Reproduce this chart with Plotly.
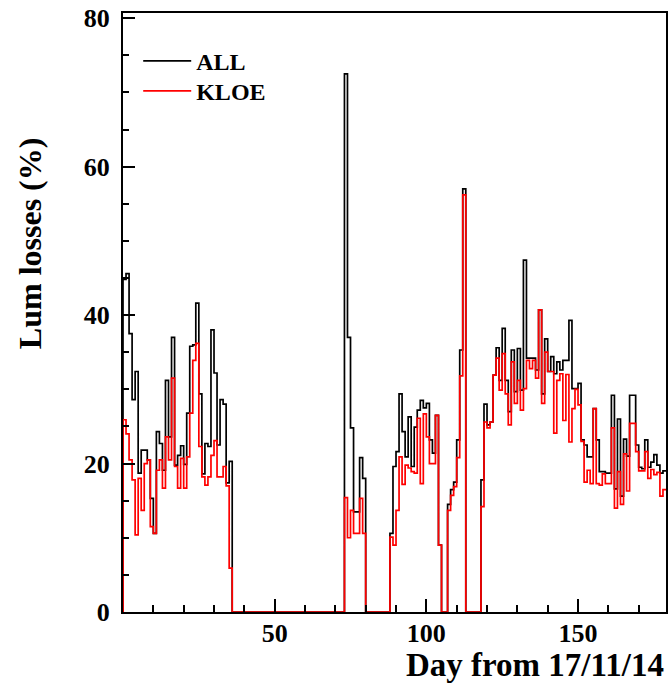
import plotly.graph_objects as go

# Daily luminosity losses (%), one bin per day starting at day 0
all_losses = [
    44.8, 45.6, 37.5, 28.6, 32.4, 18.7, 21.8, 21.8, 20.5, 15.3,
    10.6, 24.3, 22.7, 19.1, 31.2, 23.6, 37.0, 19.8, 21.1, 22.4,
    19.9, 26.8, 35.8, 36.0, 41.6, 29.4, 18.6, 22.7, 22.3, 38.0,
    32.2, 22.5, 28.6, 28.0, 17.4, 20.3, 0, 0, 0, 0,
    0, 0, 0, 0, 0, 0, 0, 0, 0, 0,
    0, 0, 0, 0, 0, 0, 0, 0, 0, 0,
    0, 0, 0, 0, 0, 0, 0, 0, 0, 0,
    0, 0, 0, 72.5, 37.0, 24.8, 13.5, 13.5, 20.8, 18.0,
    0, 0, 0, 0, 0, 0, 0, 0, 10.6, 19.6,
    21.6, 29.4, 24.3, 20.9, 26.3, 19.6, 24.9, 27.2, 28.5, 27.5,
    28.1, 23.2, 21.4, 26.5, 9.0, 0, 0, 14.5, 16.5, 17.5,
    23.2, 35.3, 57.0, 0, 0, 0, 0, 0, 17.8, 28.0,
    25.2, 25.6, 31.9, 35.6, 31.2, 38.2, 31.2, 27.0, 35.3, 29.7,
    35.5, 29.9, 47.4, 34.2, 34.2, 34.2, 32.6, 40.7, 29.4, 36.8,
    32.4, 34.4, 32.1, 33.7, 32.6, 33.9, 33.9, 39.3, 30.1, 30.1,
    30.8, 23.2, 22.5, 20.9, 20.9, 27.4, 23.2, 18.9, 18.9, 18.7,
    18.7, 29.2, 16.6, 26.0, 15.6, 23.3, 21.0, 29.2, 29.2, 22.5,
    19.5, 19.3, 23.2, 19.5, 20.2, 21.2, 19.8, 18.7, 19.0,
]

kloe_losses = [
    25.9, 24.0, 20.5, 17.8, 10.4, 18.0, 13.7, 20.0, 20.5, 11.5,
    10.6, 19.1, 20.5, 16.7, 23.6, 20.5, 31.5, 19.6, 16.7, 20.7,
    16.7, 20.9, 26.8, 33.9, 36.2, 22.3, 18.2, 17.1, 18.2, 21.1,
    23.1, 18.2, 18.2, 19.6, 17.0, 5.9, 0, 0, 0, 0,
    0, 0, 0, 0, 0, 0, 0, 0, 0, 0,
    0, 0, 0, 0, 0, 0, 0, 0, 0, 0,
    0, 0, 0, 0, 0, 0, 0, 0, 0, 0,
    0, 0, 0, 15.4, 10.0, 13.7, 10.6, 10.6, 15.3, 10.6,
    0, 0, 0, 0, 0, 0, 0, 0, 10.1, 9.0,
    13.7, 20.9, 17.2, 19.8, 19.4, 18.9, 18.7, 26.1, 17.3, 26.7,
    23.6, 20.0, 20.0, 26.5, 9.0, 0, 0, 13.7, 15.7, 16.9,
    20.8, 31.8, 56.2, 0, 0, 0, 0, 0, 14.2, 25.6,
    24.8, 25.6, 31.9, 34.2, 29.9, 34.8, 29.4, 25.2, 33.7, 28.1,
    31.2, 27.2, 30.1, 33.9, 32.8, 33.9, 31.5, 40.7, 28.1, 35.0,
    32.4, 32.4, 24.1, 31.2, 32.1, 25.8, 32.0, 22.9, 27.4, 30.0,
    27.9, 23.0, 17.5, 19.1, 17.3, 27.4, 17.3, 17.1, 18.6, 17.3,
    17.3, 24.8, 14.0, 18.9, 14.5, 21.3, 16.3, 25.4, 25.4, 21.6,
    19.0, 19.0, 21.6, 18.0, 19.2, 18.5, 18.8, 15.6, 16.5,
]

series_names = ["ALL", "KLOE"]
series_colors = ["#000000", "#ff0000"]
series_legends = ["legend", "legend2"]
x_tick_vals = [50, 100, 150]
y_tick_vals = [0, 20, 40, 60, 80]
x_title = "Day from 17/11/14"
y_title = "Lum losses (%)"

FONT = "Liberation Serif"


def step_xy(vals):
    n = len(vals)
    xs = [0] + list(range(0, n + 1))
    ys = [0] + list(vals) + [vals[-1]]
    return xs, ys


fig = go.Figure()
for name, vals, col, lg in zip(series_names, [all_losses, kloe_losses],
                               series_colors, series_legends):
    xs, ys = step_xy(vals)
    fig.add_trace(go.Scatter(
        x=xs, y=ys, mode="lines", name=name, legend=lg,
        line=dict(color=col, width=1.7, shape="hv"),
    ))

nbins = len(all_losses)
legend_font = dict(family=FONT, size=24, color="black", weight="bold")

fig.update_layout(
    width=671, height=685,
    margin=dict(l=123, r=3, t=13, b=73),
    paper_bgcolor="white", plot_bgcolor="white",
    font=dict(family=FONT, size=26, color="black", weight="bold"),
    showlegend=True,
    legend=dict(x=0.028, y=0.957, xanchor="left", yanchor="top",
                bgcolor="rgba(0,0,0,0)", font=legend_font, itemwidth=48),
    legend2=dict(x=0.028, y=0.907, xanchor="left", yanchor="top",
                 bgcolor="rgba(0,0,0,0)", font=legend_font, itemwidth=48),
    xaxis=dict(
        range=[0, nbins], showgrid=False, zeroline=False,
        showline=True, linecolor="black", linewidth=2, mirror=True,
        ticks="inside", ticklen=13, tickwidth=1.5, tickcolor="black",
        tickvals=x_tick_vals, ticklabelstandoff=-3,
        tickfont=dict(family=FONT, size=26, color="black", weight="bold"),
        minor=dict(dtick=10, tick0=0, ticks="inside", ticklen=7,
                   tickwidth=1.5, tickcolor="black", showgrid=False),
    ),
    yaxis=dict(
        range=[0, 80.7], showgrid=False, zeroline=False,
        showline=True, linecolor="black", linewidth=2, mirror=True,
        ticks="inside", ticklen=12, tickwidth=1.5, tickcolor="black",
        tickvals=y_tick_vals, ticklabelstandoff=6,
        tickfont=dict(family=FONT, size=26, color="black", weight="bold"),
        minor=dict(dtick=5, tick0=0, ticks="inside", ticklen=6,
                   tickwidth=1.5, tickcolor="black", showgrid=False),
    ),
    annotations=[
        dict(text=x_title, xref="paper", yref="paper", x=1.0, y=-0.1215,
             xanchor="right", yanchor="bottom", showarrow=False,
             font=dict(family=FONT, size=33, color="black", weight="bold")),
        dict(text=y_title, xref="paper", yref="paper", x=-0.171, y=0.616,
             xanchor="center", yanchor="middle", textangle=-90, showarrow=False,
             font=dict(family=FONT, size=32, color="black", weight="bold")),
    ],
)

fig.write_html("out.html")
